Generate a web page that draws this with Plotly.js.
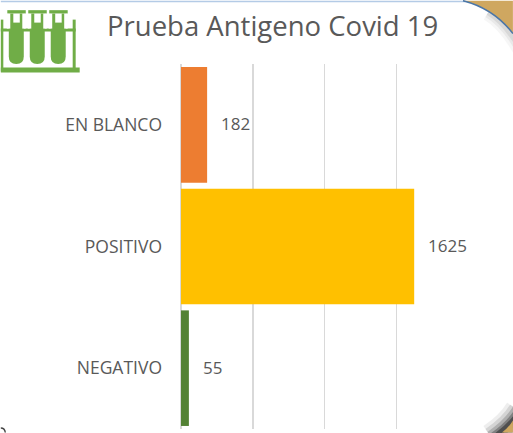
<!DOCTYPE html>
<html>
<head>
<meta charset="utf-8">
<script src="https://cdn.plot.ly/plotly-3.0.1.min.js"></script>
<style>html,body{margin:0;padding:0;background:#fff;overflow:hidden}</style>
</head>
<body>
<div id="chart" style="width:513px;height:433px"></div>
<script>
var categories = ["NEGATIVO", "POSITIVO", "EN BLANCO"];
var values = [55, 1625, 182];
var barColors = ["#548235", "#FFC000", "#ED7D31"];
var xTicks = [0, 500, 1000, 1500, 2000];
var titleText = "Prueba Antigeno Covid 19";

var W = 513, H = 433;
var m = {l: 180.5, r: 45, t: 63.5, b: 3.5};
var pw = W - m.l - m.r, ph = H - m.t - m.b;
function X(x){ return ((x - m.l) / pw).toFixed(4); }
function Y(y){ return (1 - (y - m.t) / ph).toFixed(4); }
function P(s){
  var t = s.split(" "), out = [], isX = true;
  t.forEach(function(k){
    if (/^[A-Z]$/.test(k)) { out.push(k); isX = true; }
    else { out.push(isX ? X(+k) : Y(+k)); isX = !isX; }
  });
  return out.join(" ");
}
function path(s, fill, op){
  return {type:"path", xref:"paper", yref:"paper", path:P(s), fillcolor:fill,
          opacity:op===undefined?1:op, line:{width:0}, layer:"above"};
}
function stroke(s, col, w, op){
  return {type:"path", xref:"paper", yref:"paper", path:P(s), line:{color:col,width:w},
          opacity:op===undefined?1:op, layer:"above"};
}
function rect(x0,y0,x1,y1,fill){ return path("M "+x0+" "+y0+" L "+x1+" "+y0+" L "+x1+" "+y1+" L "+x0+" "+y1+" Z", fill); }

var GREEN = "#70AD47", GOLD = "#CFA760";
var shapes = [];
shapes.push(rect(0,0,465,1.5,"#B4CBE6"));
// top-right corner
[[16,.06],[10,.09],[5,.13]].forEach(function(a){
  shapes.push(stroke("M 488 12 Q 505 22 520 48", "#6f6f6f", a[0], a[1]));
});
shapes.push(path("M 463 0 L 513 0 L 513 33 Q 494 8 463 0 Z", GOLD));
shapes.push(stroke("M 463 0 Q 494 8 513 33", "#4A76A8", 1.5));
// bottom-right corner
[[30,.07],[23,.12],[16,.2],[10,.32],[5,.5]].forEach(function(a){
  shapes.push(stroke("M 520 411 Q 511 426 492 439", "#202020", a[0], a[1]));
});
shapes.push(path("M 513 421 L 513 433 L 502 433 Q 509 428 513 421 Z", GOLD));
// test-tube rack icon
shapes.push(rect(0,19,2.5,71,GREEN));
shapes.push(rect(72,19,75,71,GREEN));
shapes.push(rect(0,67,79,72,GREEN));
shapes.push(rect(0,28,75,31,GREEN));
[8,29,50].forEach(function(x){
  shapes.push(path("M "+x+" 13 L "+(x+15)+" 13 L "+(x+15)+" 56 Q "+(x+15)+" 63.5 "+(x+7.5)+" 63.5 Q "+x+" 63.5 "+x+" 56 Z", GREEN));
  shapes.push(rect(x-1.5,9.5,x+17,13,GREEN));
  shapes.push(rect(x+4.5,13,x+11,22,"#FFFFFF"));
  shapes.push(rect(x-2,13,x+1.5,28,"#FFFFFF"));
  shapes.push(rect(x+13.5,13,x+17,28,"#FFFFFF"));
});
// stray mark at the lower-left edge
shapes.push(stroke("M 0 428.5 Q 4 428.5 4.5 433", "#444444", 1.4));

var annotations = categories.map(function(c,i){
  return {x: values[i], y: c, xref:"x", yref:"y", text:String(values[i]), showarrow:false,
          xanchor:"left", yanchor:"middle", xshift:12, yshift:1,
          font:{family:"Open Sans", size:17, color:"#595959"}};
});
annotations.push({xref:"paper", yref:"paper", x:X(104), y:Y(25), text:titleText, showarrow:false,
          xanchor:"left", yanchor:"middle", font:{family:"Open Sans", size:27.5, color:"#595959"}});

Plotly.newPlot("chart", [{
  type:"bar", orientation:"h", y:categories, x:values,
  width:0.95, marker:{color:barColors, line:{width:0}}, hoverinfo:"skip"
}], {
  width:W, height:H, margin:m, paper_bgcolor:"#fff", plot_bgcolor:"#fff", showlegend:false,
  xaxis:{range:[0,2000], tickvals:xTicks, showticklabels:false, showgrid:true, gridcolor:"#D9D9D9", gridwidth:1.5,
         zeroline:true, zerolinecolor:"#D9D9D9", zerolinewidth:1.5, showline:false, ticks:""},
  yaxis:{type:"category", categoryorder:"array", categoryarray:categories, showgrid:false, zeroline:false, showline:false,
         ticks:"outside", ticklen:14.5, tickcolor:"rgba(0,0,0,0)",
         tickfont:{family:"Open Sans", size:17.5, color:"#595959"}},
  shapes:shapes, annotations:annotations
}, {displayModeBar:false, staticPlot:true});
</script>
</body>
</html>
